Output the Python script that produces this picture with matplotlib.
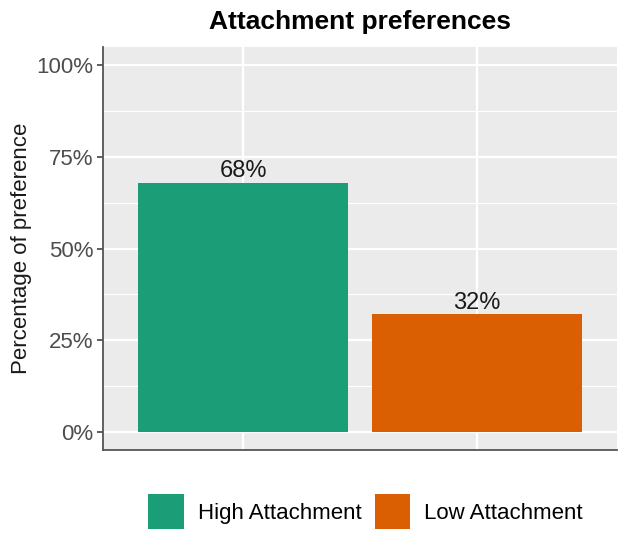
import numpy as np
import matplotlib
matplotlib.use("Agg")
import matplotlib.pyplot as plt
from matplotlib.patches import Patch
from matplotlib.ticker import MultipleLocator, FuncFormatter

plt.rcParams['font.family'] = ['Liberation Sans', 'DejaVu Sans']

categories = ["High Attachment", "Low Attachment"]
values = [68, 32]
colors = ["#1b9e77", "#d95f02"]
yticks = [0, 25, 50, 75, 100]

fig = plt.figure(figsize=(6.3, 5.38), dpi=100)
ax = fig.add_axes([0.1635, 0.1636, 0.8155, 0.749])
ax.set_facecolor("#ebebeb")

x = np.arange(1, len(categories) + 1)
bars = ax.bar(x, values, width=0.9, color=colors, zorder=3)
for xi, v in zip(x, values):
    ax.text(xi, v + 0.2, f"{v}%", ha='center', va='bottom', fontsize=17,
            color='#1a1a1a', zorder=4)

ax.set_xlim(0.4, 2.6)
ax.set_ylim(-5, 105)
ax.set_yticks(yticks)
ax.yaxis.set_minor_locator(MultipleLocator(12.5))
ax.yaxis.set_major_formatter(FuncFormatter(lambda v, p: f"{v:.0f}%"))
ax.set_xticks(x)
ax.set_xticklabels([])
ax.tick_params(axis='x', length=0)
ax.tick_params(axis='y', which='major', length=4, width=1.1, color='#333333',
               labelsize=16, labelcolor='#4d4d4d', pad=3)
ax.tick_params(axis='y', which='minor', length=0)
ax.grid(True, which='major', color='white', linewidth=1.6, zorder=0)
ax.grid(True, which='minor', axis='y', color='white', linewidth=0.8, zorder=0)
ax.set_axisbelow(True)

for s in ['top', 'right']:
    ax.spines[s].set_visible(False)
for s in ['left', 'bottom']:
    ax.spines[s].set_color('#555555')
    ax.spines[s].set_linewidth(1.3)

ax.set_ylabel("Percentage of preference", fontsize=16, color='#1a1a1a', labelpad=3)
ax.set_title("Attachment preferences", fontsize=19, fontweight='bold', pad=13)

handles = [Patch(facecolor=c, label=l) for c, l in zip(colors, categories)]
fig.legend(handles=handles, loc='center', bbox_to_anchor=(0.58, 0.049), ncol=2,
           frameon=False, fontsize=16, handlelength=1.58, handleheight=2.0,
           columnspacing=0.6, handletextpad=0.63)

fig.savefig("out.png", dpi=100)
